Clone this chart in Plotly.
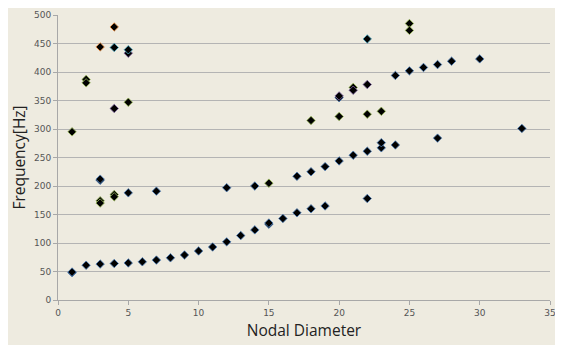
import plotly.graph_objects as go

# ---- data ----
blue_x = [1, 1, 2, 3, 4, 5, 6, 7, 8, 9, 10, 11, 12, 13, 14, 15, 15, 16, 17, 18, 19, 22,
          3, 3, 5, 7, 12, 14, 17, 18, 19, 20, 21, 22, 23, 23, 24, 27, 33,
          20, 24, 25, 26, 27, 28, 30]
blue_y = [48, 49, 61, 63, 64, 65, 67, 70, 74, 79, 86, 93, 102, 113, 123, 133, 135, 143, 153, 160, 165, 178,
          210, 212, 188, 191, 197, 200, 217, 225, 234, 244, 254, 261, 267, 276, 272, 284, 301,
          355, 394, 402, 408, 413, 419, 423]

green_x = [1, 2, 2, 3, 3, 4, 4, 5, 15, 18, 20, 21, 22, 23, 25, 25]
green_y = [295, 387, 381, 174, 170, 185, 181, 347, 205, 315, 322, 373, 326, 331, 485, 473]

orange_x = [3, 4]
orange_y = [444, 479]

purple_x = [4, 5, 20, 21, 22]
purple_y = [336, 433, 358, 368, 378]

cyan_x = [4, 5, 22]
cyan_y = [443, 439, 458]

x_ticks = [0, 5, 10, 15, 20, 25, 30, 35]
y_ticks = [0, 50, 100, 150, 200, 250, 300, 350, 400, 450, 500]

series = [
    ("Series 1", blue_x, blue_y, "#4F81BD"),
    ("Series 2", green_x, green_y, "#9BBB59"),
    ("Series 3", orange_x, orange_y, "#F79646"),
    ("Series 4", purple_x, purple_y, "#8064A2"),
    ("Series 5", cyan_x, cyan_y, "#4BACC6"),
]

fig = go.Figure()
for name, xs, ys, col in series:
    fig.add_trace(go.Scatter(
        x=xs, y=ys, mode="markers", name=name,
        marker=dict(symbol="diamond", size=6.5, color="#000000",
                    line=dict(color=col, width=0.8)),
    ))

BG = "#EEEBE0"
# page body has an 8px margin; compensate so the plot area lands where the reference has it
L, R, T, B = 50, 21, 7, 53
W, H = 563, 345

fig.update_layout(
    width=W, height=H,
    margin=dict(l=L, r=R, t=T, b=B),
    paper_bgcolor=BG,
    plot_bgcolor=BG,
    showlegend=False,
    xaxis=dict(
        range=[0, 35], tickvals=x_ticks, ticktext=[str(v) for v in x_ticks],
        showgrid=False, zeroline=False,
        showline=True, linecolor="#A8A8A8", linewidth=1,
        ticks="outside", ticklen=4, tickcolor="#A8A8A8",
        tickfont=dict(family="DejaVu Sans", size=9, color="#555555"),
        title=dict(text="Nodal Diameter", standoff=8,
                   font=dict(family="Open Sans", size=15.5, color="#222222")),
        automargin=False,
    ),
    yaxis=dict(
        range=[0, 500], tickvals=y_ticks, ticktext=[str(v) for v in y_ticks],
        showgrid=True, gridcolor="#B4B4B4", gridwidth=1, zeroline=False,
        showline=True, linecolor="#A8A8A8", linewidth=1,
        ticks="outside", ticklen=4, tickcolor="#A8A8A8",
        tickfont=dict(family="DejaVu Sans", size=9, color="#555555"),
        title=dict(text="Frequency[Hz]", standoff=10,
                   font=dict(family="Open Sans", size=15.5, color="#222222")),
        automargin=False,
    ),
)

fig.write_html("out.html")
